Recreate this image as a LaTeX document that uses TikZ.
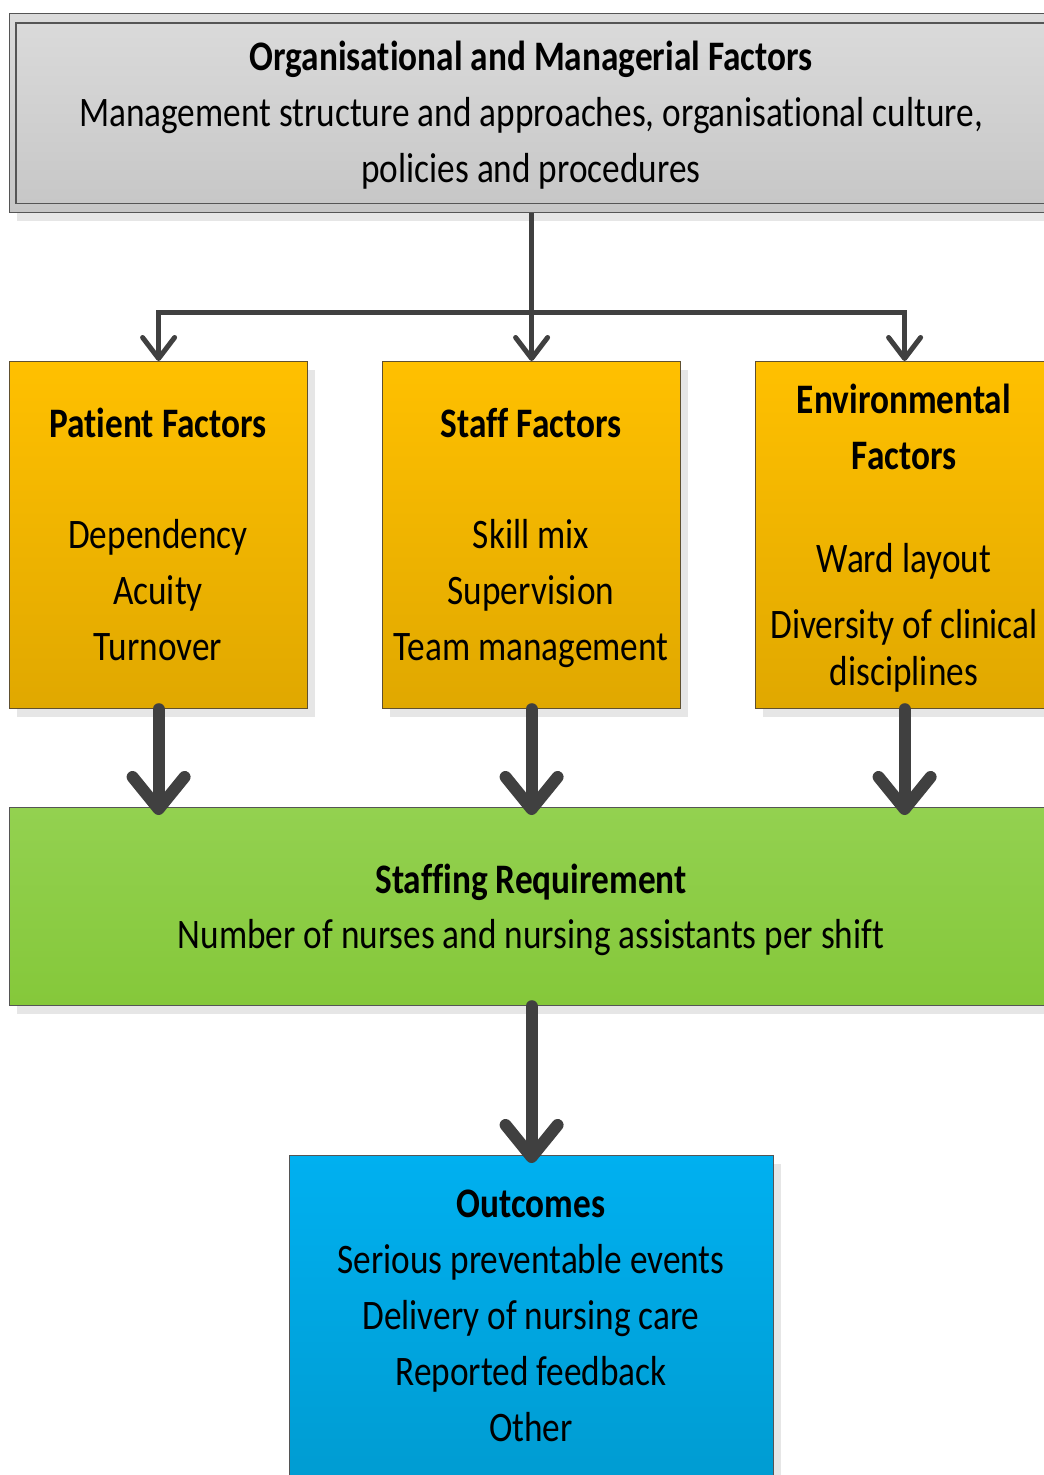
\documentclass[tikz,border=0pt]{standalone}
\usepackage{fontspec}
\setmainfont[FakeStretch=0.84,Ligatures=NoCommon]{Carlito}
\usetikzlibrary{arrows.meta,calc,shadows}
\definecolor{arrowgray}{HTML}{404040}
\definecolor{shadowgray}{HTML}{E6E6E6}
\definecolor{grayTop}{HTML}{DBDBDB}
\definecolor{grayBot}{HTML}{C6C6C6}
\definecolor{orTop}{HTML}{FFC000}
\definecolor{orBot}{HTML}{E0A800}
\definecolor{grTop}{HTML}{93D150}
\definecolor{grBot}{HTML}{85C83A}
\definecolor{blTop}{HTML}{00B0F0}
\definecolor{blBot}{HTML}{009BD0}
\definecolor{boxline}{HTML}{555555}
\definecolor{orline}{HTML}{5F5030}
\tikzset{
  box/.style={rectangle, anchor=north west, inner sep=0pt, line width=1.2pt,
    drop shadow={shadow xshift=7pt, shadow yshift=-8pt, fill=shadowgray, opacity=1}},
  graybox/.style={box, draw=boxline, top color=grayTop, bottom color=grayBot},
  orbox/.style={box, draw=orline, top color=orTop, bottom color=orBot,
    minimum width=298pt, minimum height=347pt},
  grbox/.style={box, draw=boxline, top color=grTop, bottom color=grBot},
  blbox/.style={box, draw=boxline, top color=blTop, bottom color=blBot},
  txt/.style={anchor=base, inner sep=0pt, font=\fontsize{42}{56}\selectfont},
  btxt/.style={txt, font=\fontsize{42}{56}\selectfont\bfseries},
  thinarrow/.style={draw=arrowgray, line width=5pt,
    -{Straight Barb[length=21pt,width=32pt,round]}},
  thickarrow/.style={draw=arrowgray, line width=12pt, line cap=round,
    -{Straight Barb[length=32pt,width=52pt,round]}},
}
\begin{document}
\begin{tikzpicture}[x=1pt,y=-1pt]
\useasboundingbox (0,0) rectangle (1044,1475);
% boxes
\node[graybox, minimum width=1044pt, minimum height=199pt] (org) at (9,13) {};
\draw[boxline, line width=1.2pt] ($(org.north west)+(7,10)$) rectangle ($(org.south east)+(-7,-10)$);
\node[orbox] (patient) at (9,361) {};
\node[orbox] (staff) at (382,361) {};
\node[orbox] (env) at (755,361) {};
\node[grbox, minimum width=1044pt, minimum height=198pt] (req) at (9,807) {};
\node[blbox, minimum width=484pt, minimum height=340pt] (out) at (289,1155) {};
% texts
\node[btxt] (o1) at (531,70) {Organisational and Managerial Factors};
\node[txt] (o2) at (531,126) {Management structure and approaches, organisational culture,};
\node[txt] (o3) at (531,182) {policies and procedures};
\node[btxt] (p1) at (158,437) {Patient Factors};
\node[txt] (p2) at (158,548) {Dependency};
\node[txt] (p3) at (158,604) {Acuity};
\node[txt] (p4) at (158,660) {Turnover};
\node[btxt] (s1) at (531,437) {Staff Factors};
\node[txt] (s2) at (531,548) {Skill mix};
\node[txt] (s3) at (531,604) {Supervision};
\node[txt] (s4) at (531,660) {Team management};
\node[btxt] (e1) at (904,413) {Environmental};
\node[btxt] (e2) at (904,469) {Factors};
\node[txt] (e3) at (904,572) {Ward layout};
\node[txt] (e4) at (904,638) {Diversity of clinical};
\node[txt] (e5) at (904,685) {disciplines};
\node[btxt] (r1) at (531,893) {Staffing Requirement};
\node[txt] (r2) at (531,948) {Number of nurses and nursing assistants per shift};
\node[btxt] (u1) at (531,1217) {Outcomes};
\node[txt] (u2) at (531,1273) {Serious preventable events};
\node[txt] (u3) at (531,1329) {Delivery of nursing care};
\node[txt] (u4) at (531,1385) {Reported feedback};
\node[txt] (u5) at (531,1441) {Other};
% connectors
\coordinate (split) at ($(org.south)+(0,99)$);
\draw[thinarrow] (org.south) -- (staff.north);
\draw[thinarrow] (split) -| (patient.north);
\draw[thinarrow] (split) -| (env.north);
\draw[thickarrow] (patient.south) -- ($(patient.south |- req.north)+(0,8)$);
\draw[thickarrow] (staff.south) -- ($(staff.south |- req.north)+(0,8)$);
\draw[thickarrow] (env.south) -- ($(env.south |- req.north)+(0,8)$);
\draw[thickarrow] (req.south) -- ($(out.north)+(0,8)$);
\end{tikzpicture}
\end{document}
